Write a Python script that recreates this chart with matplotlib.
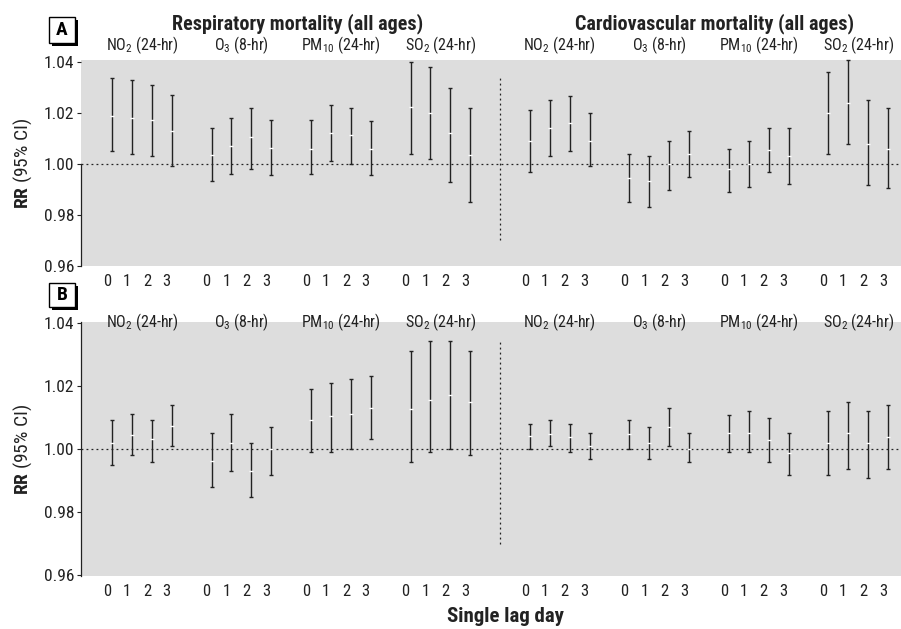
import matplotlib.pyplot as plt
from matplotlib.patches import Rectangle

plt.rcParams['font.family'] = ['Roboto Condensed', 'DejaVu Sans']
plt.rcParams['mathtext.fontset'] = 'custom'
plt.rcParams['mathtext.rm'] = 'Roboto Condensed'
plt.rcParams['mathtext.bf'] = 'Roboto Condensed:bold'

# -- DATA --
pollutants = ['NO$_2$ (24-hr)', 'O$_3$ (8-hr)', 'PM$_{10}$ (24-hr)', 'SO$_2$ (24-hr)']
lags = [0, 1, 2, 3]
outcomes = ['Respiratory mortality (all ages)', 'Cardiovascular mortality (all ages)']
yticks = [0.96, 0.98, 1.00, 1.02, 1.04]

# panel A: respiratory then cardiovascular, 4 pollutants x 4 lags each
a_rr = [1.0186, 1.0179, 1.0173, 1.0129, 1.0034, 1.0071, 1.0105, 1.0061,
        1.0059, 1.0120, 1.0111, 1.0059, 1.0221, 1.0199, 1.0120, 1.0034,
        1.0088, 1.0140, 1.0160, 1.0090, 0.9944, 0.9931, 0.9999, 1.0039,
        0.9980, 1.0000, 1.0055, 1.0029, 1.0199, 1.0238, 1.0078, 1.0057]
a_lo = [1.0048, 1.0039, 1.0029, 0.9990, 0.9931, 0.9960, 0.9980, 0.9955,
        0.9961, 1.0009, 1.0000, 0.9955, 1.0038, 1.0018, 0.9929, 0.9851,
        0.9969, 1.0029, 1.0048, 0.9990, 0.9850, 0.9829, 0.9898, 0.9950,
        0.9888, 0.9908, 0.9967, 0.9920, 1.0038, 1.0077, 0.9918, 0.9907]
a_hi = [1.0337, 1.0327, 1.0308, 1.0268, 1.0140, 1.0180, 1.0218, 1.0170,
        1.0170, 1.0229, 1.0218, 1.0167, 1.0400, 1.0378, 1.0297, 1.0218,
        1.0210, 1.0251, 1.0267, 1.0199, 1.0039, 1.0031, 1.0089, 1.0129,
        1.0059, 1.0090, 1.0140, 1.0139, 1.0358, 1.0406, 1.0248, 1.0218]

# panel B
b_rr = [1.0020, 1.0043, 1.0031, 1.0072, 0.9961, 1.0020, 0.9929, 1.0001,
        1.0091, 1.0104, 1.0112, 1.0131, 1.0128, 1.0157, 1.0170, 1.0149,
        1.0040, 1.0049, 1.0038, 1.0010, 1.0049, 1.0019, 1.0070, 1.0001,
        1.0051, 1.0051, 1.0030, 0.9988, 1.0020, 1.0051, 1.0020, 1.0038]
b_lo = [0.9948, 0.9980, 0.9959, 1.0010, 0.9878, 0.9929, 0.9847, 0.9919,
        0.9990, 0.9990, 1.0000, 1.0031, 0.9959, 0.9990, 1.0000, 0.9980,
        1.0000, 1.0010, 0.9990, 0.9967, 1.0000, 0.9969, 1.0010, 0.9959,
        0.9990, 0.9990, 0.9959, 0.9919, 0.9919, 0.9938, 0.9908, 0.9938]
b_hi = [1.0091, 1.0110, 1.0091, 1.0141, 1.0051, 1.0110, 1.0019, 1.0071,
        1.0192, 1.0211, 1.0221, 1.0231, 1.0311, 1.0342, 1.0342, 1.0310,
        1.0080, 1.0091, 1.0080, 1.0050, 1.0091, 1.0070, 1.0130, 1.0050,
        1.0109, 1.0121, 1.0100, 1.0050, 1.0120, 1.0149, 1.0120, 1.0139]

# x positions: 4 lags per pollutant, gap of one slot between pollutants,
# extra slot between the two outcomes
xpos = []
for o in range(2):
    for p in range(4):
        for l in lags:
            xpos.append(o * 21 + p * 5 + l)
xlabels = [str(l) for l in lags] * 8

GRAY = '#dddddd'
INK = '#222222'

fig = plt.figure(figsize=(9.01, 6.29), dpi=100)
W, H = 901, 629


def px_axes(left, top, right, bottom):
    return fig.add_axes([left / W, 1 - bottom / H, (right - left) / W, (bottom - top) / H])


def panel_box(letter, x0, y0, x1, y1):
    # drop shadow then white box
    fig.patches.append(Rectangle((x0 / W + 3 / W, 1 - y1 / H - 3 / H), (x1 - x0) / W, (y1 - y0) / H,
                                 transform=fig.transFigure, fc='black', ec='none'))
    fig.patches.append(Rectangle((x0 / W, 1 - y1 / H), (x1 - x0) / W, (y1 - y0) / H,
                                 transform=fig.transFigure, fc='white', ec='black', lw=1))
    fig.text((x0 + x1) / 2 / W, 1 - (y0 + y1) / 2 / H, letter, ha='center', va='center',
             fontsize=14, fontweight='bold', color='black')


def draw_panel(ax, rr, lo, hi, ylim, label_y):
    ax.set_facecolor(GRAY)
    ax.set_xlim(-1.56, 39.65)
    ax.set_ylim(*ylim)
    for x, m, l, h in zip(xpos, rr, lo, hi):
        ax.errorbar(x, m, yerr=[[m - l], [h - m]], fmt='none', ecolor=INK,
                    elinewidth=1.0, capsize=1.5, capthick=1, clip_on=False)
        ax.plot(x, m, marker='_', ms=3, mew=1, color='white', zorder=5)
    ax.axhline(1.0, color=INK, lw=0.9, ls=(0, (1.5, 2.5)), zorder=1)
    ax.plot([19.5, 19.5], [0.97, 1.034], color=INK, lw=0.9, ls=(0, (1.5, 2.5)))

    ax.set_xticks([x - 0.25 for x in xpos])
    ax.set_xticklabels(xlabels, fontsize=12, color=INK)
    ax.tick_params(axis='x', length=0, pad=6)
    ax.set_yticks(yticks)
    ax.set_yticklabels(['%.2f' % v for v in yticks], fontsize=12.5, color=INK)
    ax.tick_params(axis='y', length=3, width=0.8, color=INK, pad=2)
    for s in ['top', 'right', 'bottom']:
        ax.spines[s].set_visible(False)
    ax.spines['left'].set_color(INK)
    ax.spines['left'].set_linewidth(0.9)
    ax.set_ylabel(r'$\bf{RR}$ (95% CI)', fontsize=14, color=INK, labelpad=7)

    for o in range(2):
        for p, name in enumerate(pollutants):
            cx = o * 21 + p * 5 + 1.5
            ax.text(cx, label_y, name, ha='center', va='center', fontsize=11.5,
                    color=INK, transform=ax.get_xaxis_transform(), clip_on=False)


# panel A
axA = px_axes(81, 60, 901, 266)
draw_panel(axA, a_rr, a_lo, a_hi, (0.96, 1.0406), 1.07)
axA.spines['left'].set_bounds(0.96, 1.0)
for o, title in enumerate(outcomes):
    axA.text(o * 21 + 9.3, 1.175, title, ha='center', va='center', fontsize=14.5,
             fontweight='bold', color=INK, transform=axA.get_xaxis_transform())
panel_box('A', 49, 17, 75, 43)

# panel B
axB = px_axes(81, 322, 901, 576)
draw_panel(axB, b_rr, b_lo, b_hi, (0.96 - 1 / 3150, 1.04 + 1 / 3150), 1.0)
panel_box('B', 49, 283, 75, 307)

fig.text(505 / W, 1 - 617 / H, 'Single lag day', ha='center', va='center',
         fontsize=15, fontweight='bold', color=INK)

fig.savefig('out.png', dpi=100)
